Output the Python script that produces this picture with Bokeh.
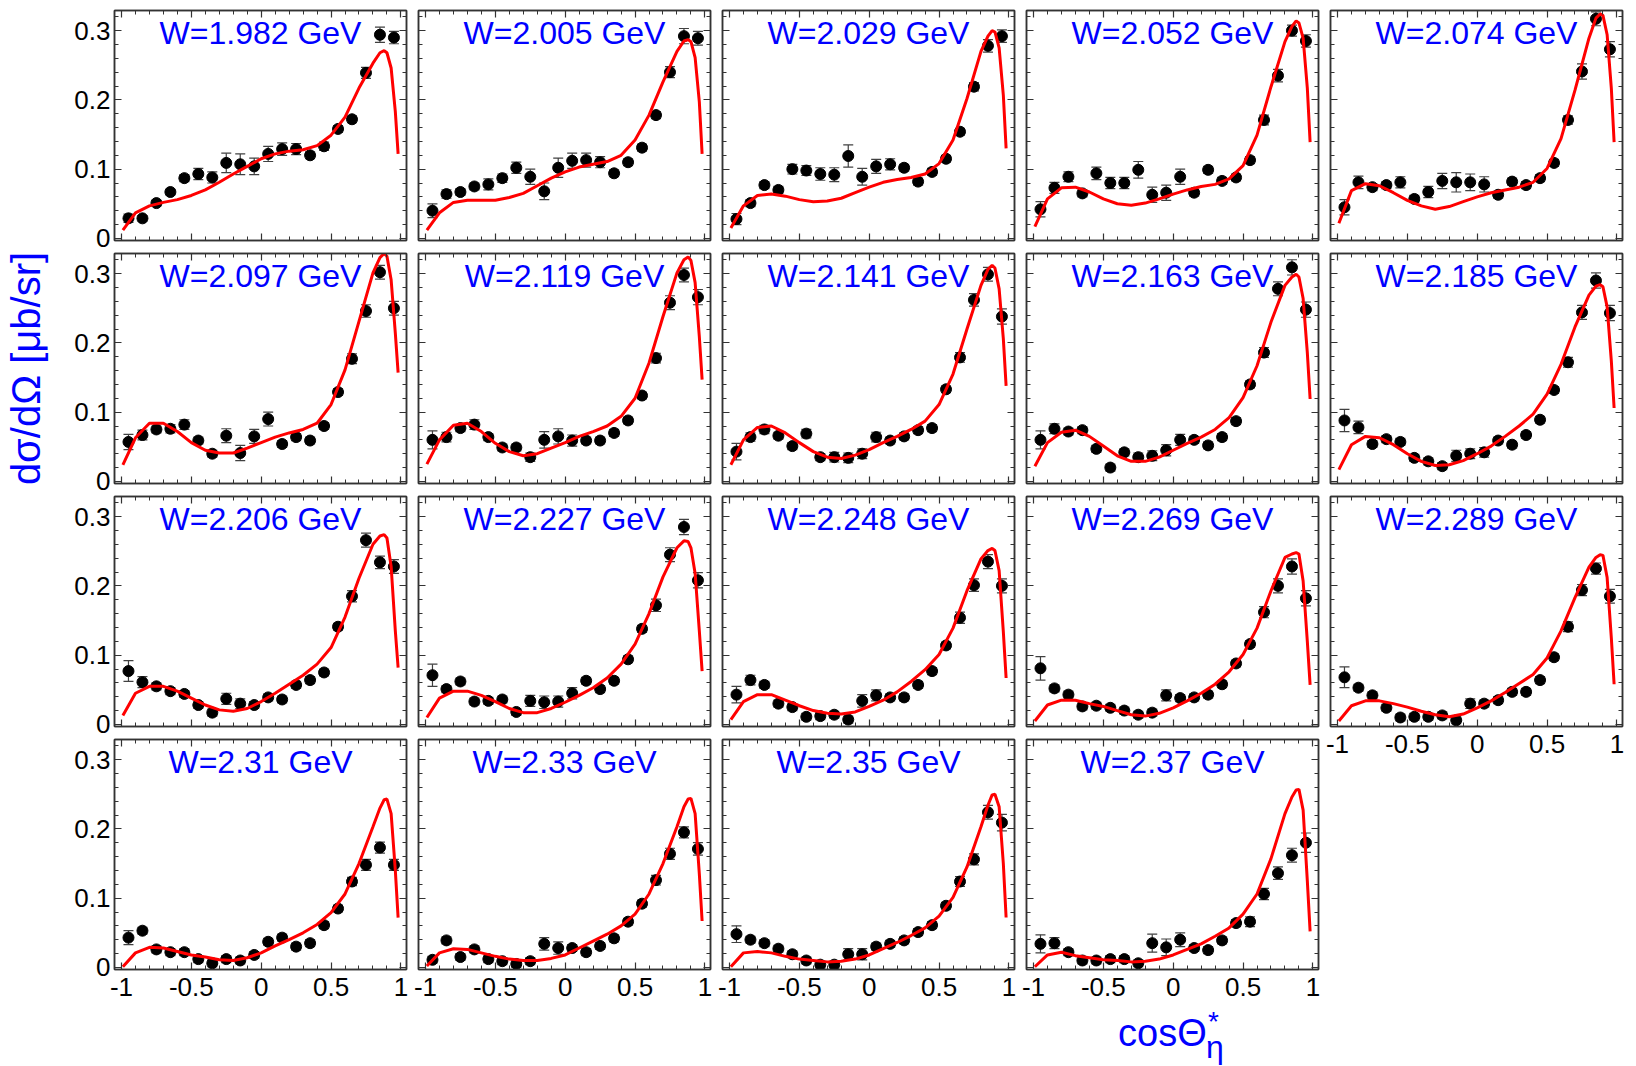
import numpy as np
from bokeh.plotting import figure
from bokeh.models import (Range1d, LinearAxis, FixedTicker, Label, Whisker, TeeHead,
                          ColumnDataSource, CustomLabelingPolicy, Div)
from bokeh.layouts import row, column
from bokeh.embed import file_html
from bokeh.resources import INLINE

# ---------------- data ----------------
W_LABELS = ["W=1.982 GeV", "W=2.005 GeV", "W=2.029 GeV", "W=2.052 GeV", "W=2.074 GeV",
            "W=2.097 GeV", "W=2.119 GeV", "W=2.141 GeV", "W=2.163 GeV", "W=2.185 GeV",
            "W=2.206 GeV", "W=2.227 GeV", "W=2.248 GeV", "W=2.269 GeV", "W=2.289 GeV",
            "W=2.31 GeV", "W=2.33 GeV", "W=2.35 GeV", "W=2.37 GeV"]

COS = [-0.95, -0.85, -0.75, -0.65, -0.55, -0.45, -0.35, -0.25, -0.15, -0.05,
       0.05, 0.15, 0.25, 0.35, 0.45, 0.55, 0.65, 0.75, 0.85, 0.95]
FIT_X = [-0.99, -0.9, -0.8, -0.7, -0.6, -0.5, -0.4, -0.3, -0.2, -0.1, 0.0, 0.1, 0.2,
         0.3, 0.4, 0.5, 0.6, 0.7, 0.8, 0.85, 0.88, 0.9, 0.93, 0.96, 0.98]

XTICKS = [-1, -0.5, 0, 0.5, 1]
XTICK_LABELS = ["-1", "-0.5", "0", "0.5", "1"]
YTICKS = [0, 0.1, 0.2, 0.3]
YTICK_LABELS = ["0", "0.1", "0.2", "0.3"]
Y_TITLE = "dσ/dΩ [μb/sr]"
X_TITLE_MAIN, X_TITLE_SUP, X_TITLE_SUB = "cosΘ", "*", "η"

Y_1982 = [0.029, 0.029, 0.051, 0.067, 0.087, 0.093, 0.088, 0.109, 0.107, 0.104, 0.122, 0.129, 0.129, 0.120, 0.133, 0.158, 0.172, 0.239, 0.294, 0.290]
E_1982 = [0.006, 0.004, 0.004, 0.004, 0.005, 0.008, 0.008, 0.014, 0.015, 0.012, 0.011, 0.009, 0.008, 0.005, 0.006, 0.005, 0.005, 0.008, 0.011, 0.009]
F_1982 = [0.012, 0.037, 0.047, 0.052, 0.056, 0.062, 0.070, 0.081, 0.093, 0.104, 0.115, 0.122, 0.126, 0.128, 0.134, 0.149, 0.175, 0.217, 0.253, 0.268, 0.271, 0.268, 0.246, 0.183, 0.122]

Y_2005 = [0.040, 0.064, 0.067, 0.075, 0.078, 0.087, 0.102, 0.089, 0.068, 0.102, 0.112, 0.113, 0.110, 0.094, 0.110, 0.131, 0.178, 0.240, 0.292, 0.289]
E_2005 = [0.010, 0.006, 0.005, 0.005, 0.008, 0.006, 0.008, 0.011, 0.012, 0.014, 0.011, 0.010, 0.008, 0.005, 0.005, 0.005, 0.005, 0.008, 0.011, 0.010]
F_2005 = [0.012, 0.037, 0.052, 0.055, 0.055, 0.055, 0.059, 0.065, 0.076, 0.087, 0.096, 0.103, 0.107, 0.111, 0.120, 0.142, 0.178, 0.226, 0.270, 0.285, 0.287, 0.284, 0.261, 0.197, 0.122]

Y_2029 = [0.028, 0.051, 0.077, 0.070, 0.100, 0.098, 0.093, 0.092, 0.119, 0.089, 0.104, 0.107, 0.102, 0.082, 0.096, 0.115, 0.154, 0.219, 0.278, 0.292]
E_2029 = [0.008, 0.005, 0.005, 0.005, 0.007, 0.007, 0.009, 0.010, 0.016, 0.012, 0.010, 0.008, 0.005, 0.005, 0.005, 0.005, 0.005, 0.006, 0.009, 0.009]
F_2029 = [0.015, 0.047, 0.062, 0.064, 0.061, 0.056, 0.053, 0.054, 0.058, 0.066, 0.074, 0.081, 0.085, 0.088, 0.093, 0.108, 0.142, 0.202, 0.270, 0.292, 0.300, 0.298, 0.275, 0.207, 0.130]

Y_2052 = [0.042, 0.073, 0.089, 0.065, 0.094, 0.080, 0.080, 0.099, 0.063, 0.066, 0.089, 0.066, 0.099, 0.083, 0.088, 0.113, 0.171, 0.235, 0.300, 0.285]
E_2052 = [0.011, 0.008, 0.007, 0.005, 0.009, 0.008, 0.008, 0.012, 0.011, 0.011, 0.011, 0.005, 0.005, 0.005, 0.005, 0.005, 0.007, 0.009, 0.008, 0.009]
F_2052 = [0.017, 0.057, 0.073, 0.074, 0.067, 0.057, 0.050, 0.048, 0.051, 0.057, 0.064, 0.070, 0.075, 0.078, 0.086, 0.105, 0.149, 0.219, 0.284, 0.306, 0.314, 0.311, 0.289, 0.217, 0.139]

Y_2074 = [0.045, 0.081, 0.074, 0.077, 0.081, 0.057, 0.067, 0.083, 0.081, 0.081, 0.078, 0.063, 0.082, 0.077, 0.087, 0.109, 0.171, 0.241, 0.317, 0.273]
E_2074 = [0.011, 0.009, 0.005, 0.005, 0.008, 0.005, 0.008, 0.011, 0.014, 0.012, 0.011, 0.005, 0.005, 0.005, 0.005, 0.005, 0.006, 0.011, 0.010, 0.011]
F_2074 = [0.022, 0.069, 0.079, 0.076, 0.066, 0.055, 0.047, 0.042, 0.046, 0.053, 0.060, 0.066, 0.070, 0.074, 0.081, 0.101, 0.144, 0.214, 0.289, 0.318, 0.324, 0.322, 0.294, 0.217, 0.139]

Y_2097 = [0.057, 0.067, 0.075, 0.076, 0.082, 0.059, 0.040, 0.066, 0.041, 0.065, 0.090, 0.054, 0.064, 0.059, 0.080, 0.129, 0.177, 0.246, 0.302, 0.250]
E_2097 = [0.011, 0.007, 0.005, 0.006, 0.007, 0.005, 0.005, 0.010, 0.011, 0.010, 0.010, 0.005, 0.005, 0.005, 0.005, 0.005, 0.007, 0.009, 0.010, 0.010]
F_2097 = [0.024, 0.063, 0.084, 0.084, 0.072, 0.056, 0.045, 0.041, 0.041, 0.048, 0.056, 0.064, 0.070, 0.075, 0.084, 0.111, 0.161, 0.231, 0.301, 0.323, 0.329, 0.325, 0.291, 0.214, 0.157]

Y_2119 = [0.060, 0.064, 0.077, 0.082, 0.064, 0.049, 0.049, 0.035, 0.060, 0.065, 0.059, 0.059, 0.059, 0.070, 0.088, 0.124, 0.178, 0.258, 0.298, 0.266]
E_2119 = [0.013, 0.007, 0.005, 0.007, 0.005, 0.005, 0.005, 0.006, 0.012, 0.011, 0.008, 0.005, 0.005, 0.005, 0.005, 0.005, 0.007, 0.010, 0.010, 0.011]
F_2119 = [0.025, 0.060, 0.081, 0.084, 0.072, 0.055, 0.043, 0.037, 0.040, 0.048, 0.056, 0.065, 0.072, 0.080, 0.094, 0.120, 0.171, 0.238, 0.301, 0.320, 0.324, 0.319, 0.287, 0.209, 0.147]

Y_2141 = [0.043, 0.064, 0.075, 0.066, 0.051, 0.069, 0.035, 0.035, 0.034, 0.040, 0.064, 0.059, 0.065, 0.074, 0.077, 0.133, 0.179, 0.262, 0.299, 0.238]
E_2141 = [0.012, 0.006, 0.006, 0.005, 0.005, 0.006, 0.005, 0.007, 0.007, 0.007, 0.007, 0.005, 0.005, 0.005, 0.005, 0.005, 0.007, 0.009, 0.010, 0.011]
F_2141 = [0.024, 0.060, 0.078, 0.080, 0.070, 0.056, 0.043, 0.035, 0.033, 0.038, 0.046, 0.056, 0.065, 0.075, 0.087, 0.111, 0.155, 0.220, 0.283, 0.306, 0.312, 0.308, 0.278, 0.206, 0.138]

Y_2163 = [0.060, 0.076, 0.072, 0.074, 0.047, 0.020, 0.042, 0.035, 0.037, 0.045, 0.060, 0.060, 0.052, 0.064, 0.087, 0.140, 0.186, 0.278, 0.309, 0.248]
E_2163 = [0.013, 0.007, 0.005, 0.005, 0.005, 0.005, 0.005, 0.006, 0.007, 0.008, 0.008, 0.005, 0.005, 0.005, 0.005, 0.005, 0.007, 0.010, 0.011, 0.011]
F_2163 = [0.022, 0.056, 0.071, 0.074, 0.065, 0.051, 0.037, 0.029, 0.029, 0.035, 0.045, 0.055, 0.064, 0.075, 0.092, 0.121, 0.167, 0.230, 0.283, 0.295, 0.299, 0.295, 0.264, 0.186, 0.119]

Y_2185 = [0.088, 0.078, 0.054, 0.061, 0.057, 0.034, 0.029, 0.022, 0.037, 0.040, 0.042, 0.059, 0.053, 0.067, 0.089, 0.132, 0.172, 0.244, 0.290, 0.243]
E_2185 = [0.016, 0.009, 0.005, 0.005, 0.005, 0.005, 0.005, 0.005, 0.008, 0.007, 0.007, 0.005, 0.005, 0.005, 0.005, 0.005, 0.007, 0.010, 0.011, 0.011]
F_2185 = [0.017, 0.053, 0.065, 0.063, 0.053, 0.040, 0.029, 0.023, 0.024, 0.030, 0.040, 0.051, 0.065, 0.080, 0.097, 0.126, 0.169, 0.223, 0.269, 0.282, 0.284, 0.281, 0.252, 0.174, 0.106]

Y_2206 = [0.077, 0.061, 0.055, 0.048, 0.044, 0.028, 0.017, 0.037, 0.030, 0.028, 0.039, 0.036, 0.057, 0.064, 0.075, 0.141, 0.185, 0.266, 0.234, 0.228]
E_2206 = [0.015, 0.008, 0.005, 0.005, 0.005, 0.005, 0.005, 0.008, 0.007, 0.005, 0.005, 0.005, 0.005, 0.005, 0.005, 0.005, 0.008, 0.010, 0.009, 0.010]
F_2206 = [0.013, 0.045, 0.055, 0.055, 0.048, 0.038, 0.028, 0.021, 0.019, 0.023, 0.033, 0.045, 0.058, 0.071, 0.087, 0.111, 0.155, 0.211, 0.260, 0.272, 0.274, 0.269, 0.228, 0.135, 0.082]

Y_2227 = [0.071, 0.051, 0.062, 0.033, 0.034, 0.036, 0.018, 0.034, 0.032, 0.033, 0.045, 0.063, 0.051, 0.063, 0.094, 0.138, 0.172, 0.245, 0.285, 0.208]
E_2227 = [0.016, 0.005, 0.005, 0.005, 0.005, 0.005, 0.005, 0.008, 0.009, 0.008, 0.008, 0.005, 0.005, 0.005, 0.005, 0.005, 0.009, 0.010, 0.011, 0.011]
F_2227 = [0.010, 0.038, 0.048, 0.048, 0.042, 0.033, 0.023, 0.017, 0.017, 0.023, 0.032, 0.042, 0.053, 0.067, 0.087, 0.116, 0.160, 0.213, 0.255, 0.265, 0.264, 0.255, 0.218, 0.135, 0.077]

Y_2248 = [0.043, 0.064, 0.057, 0.030, 0.025, 0.011, 0.012, 0.014, 0.007, 0.034, 0.042, 0.039, 0.039, 0.057, 0.077, 0.114, 0.154, 0.201, 0.235, 0.200]
E_2248 = [0.012, 0.007, 0.005, 0.005, 0.005, 0.005, 0.005, 0.005, 0.005, 0.009, 0.008, 0.005, 0.005, 0.005, 0.005, 0.005, 0.008, 0.009, 0.010, 0.010]
F_2248 = [0.007, 0.033, 0.043, 0.043, 0.035, 0.027, 0.020, 0.016, 0.015, 0.018, 0.026, 0.035, 0.047, 0.062, 0.079, 0.101, 0.139, 0.193, 0.239, 0.251, 0.254, 0.251, 0.222, 0.134, 0.067]

Y_2269 = [0.081, 0.052, 0.043, 0.026, 0.027, 0.024, 0.020, 0.014, 0.017, 0.042, 0.038, 0.039, 0.043, 0.058, 0.088, 0.116, 0.162, 0.200, 0.228, 0.182]
E_2269 = [0.017, 0.005, 0.005, 0.005, 0.005, 0.005, 0.005, 0.005, 0.005, 0.008, 0.005, 0.005, 0.005, 0.005, 0.005, 0.005, 0.008, 0.010, 0.011, 0.011]
F_2269 = [0.005, 0.028, 0.035, 0.035, 0.030, 0.026, 0.020, 0.014, 0.012, 0.016, 0.024, 0.034, 0.045, 0.058, 0.076, 0.101, 0.139, 0.193, 0.241, 0.246, 0.248, 0.246, 0.207, 0.120, 0.057]

Y_2289 = [0.068, 0.053, 0.042, 0.024, 0.010, 0.011, 0.011, 0.013, 0.006, 0.030, 0.030, 0.035, 0.047, 0.047, 0.064, 0.097, 0.141, 0.194, 0.225, 0.185]
E_2289 = [0.015, 0.005, 0.005, 0.005, 0.005, 0.005, 0.005, 0.005, 0.005, 0.007, 0.005, 0.005, 0.005, 0.005, 0.005, 0.005, 0.007, 0.008, 0.008, 0.010]
F_2289 = [0.005, 0.027, 0.034, 0.034, 0.030, 0.025, 0.019, 0.014, 0.011, 0.015, 0.024, 0.034, 0.046, 0.059, 0.072, 0.096, 0.135, 0.183, 0.227, 0.241, 0.245, 0.244, 0.212, 0.125, 0.058]

Y_2310 = [0.043, 0.053, 0.026, 0.022, 0.022, 0.012, 0.006, 0.012, 0.010, 0.018, 0.037, 0.043, 0.030, 0.035, 0.061, 0.085, 0.124, 0.148, 0.173, 0.148]
E_2310 = [0.010, 0.005, 0.005, 0.005, 0.005, 0.005, 0.005, 0.005, 0.005, 0.005, 0.005, 0.005, 0.005, 0.005, 0.005, 0.005, 0.006, 0.008, 0.008, 0.008]
F_2310 = [0.001, 0.021, 0.029, 0.028, 0.023, 0.018, 0.015, 0.011, 0.010, 0.014, 0.021, 0.031, 0.040, 0.050, 0.062, 0.079, 0.106, 0.150, 0.203, 0.230, 0.242, 0.243, 0.222, 0.140, 0.072]

Y_2330 = [0.011, 0.039, 0.015, 0.026, 0.012, 0.009, 0.005, 0.009, 0.034, 0.028, 0.028, 0.022, 0.031, 0.042, 0.066, 0.092, 0.126, 0.164, 0.195, 0.171]
E_2330 = [0.005, 0.005, 0.005, 0.005, 0.005, 0.005, 0.005, 0.005, 0.009, 0.009, 0.005, 0.005, 0.005, 0.005, 0.005, 0.005, 0.007, 0.008, 0.008, 0.009]
F_2330 = [0.002, 0.021, 0.027, 0.026, 0.021, 0.016, 0.012, 0.010, 0.010, 0.013, 0.018, 0.028, 0.038, 0.048, 0.060, 0.077, 0.106, 0.150, 0.203, 0.232, 0.243, 0.244, 0.222, 0.135, 0.067]

Y_2350 = [0.048, 0.040, 0.035, 0.027, 0.019, 0.010, 0.004, 0.004, 0.019, 0.019, 0.030, 0.034, 0.039, 0.051, 0.061, 0.089, 0.124, 0.156, 0.224, 0.209]
E_2350 = [0.012, 0.005, 0.005, 0.005, 0.005, 0.005, 0.005, 0.005, 0.008, 0.008, 0.005, 0.005, 0.005, 0.005, 0.005, 0.005, 0.007, 0.008, 0.010, 0.012]
F_2350 = [0.001, 0.021, 0.023, 0.021, 0.016, 0.012, 0.010, 0.008, 0.009, 0.012, 0.018, 0.027, 0.036, 0.046, 0.057, 0.074, 0.101, 0.145, 0.203, 0.234, 0.249, 0.250, 0.232, 0.150, 0.072]

Y_2370 = [0.034, 0.035, 0.022, 0.010, 0.010, 0.012, 0.012, 0.006, 0.035, 0.029, 0.040, 0.028, 0.025, 0.039, 0.064, 0.066, 0.106, 0.136, 0.162, 0.180]
E_2370 = [0.013, 0.008, 0.005, 0.005, 0.005, 0.005, 0.005, 0.005, 0.013, 0.012, 0.010, 0.005, 0.005, 0.005, 0.005, 0.007, 0.008, 0.009, 0.010, 0.014]
F_2370 = [0.001, 0.018, 0.022, 0.017, 0.014, 0.011, 0.010, 0.008, 0.009, 0.012, 0.018, 0.026, 0.034, 0.045, 0.057, 0.077, 0.106, 0.157, 0.222, 0.246, 0.256, 0.257, 0.227, 0.125, 0.052]

PANELS = [
    (Y_1982, E_1982, F_1982), (Y_2005, E_2005, F_2005), (Y_2029, E_2029, F_2029),
    (Y_2052, E_2052, F_2052), (Y_2074, E_2074, F_2074), (Y_2097, E_2097, F_2097),
    (Y_2119, E_2119, F_2119), (Y_2141, E_2141, F_2141), (Y_2163, E_2163, F_2163),
    (Y_2185, E_2185, F_2185), (Y_2206, E_2206, F_2206), (Y_2227, E_2227, F_2227),
    (Y_2248, E_2248, F_2248), (Y_2269, E_2269, F_2269), (Y_2289, E_2289, F_2289),
    (Y_2310, E_2310, F_2310), (Y_2330, E_2330, F_2330), (Y_2350, E_2350, F_2350),
    (Y_2370, E_2370, F_2370),
]

# ---------------- styling / layout ----------------
XMIN, XMAX = -1.05, 1.04
YMIN, YMAX = -0.003, 0.329
FW, FH = 292, 230
PYU = FH / (YMAX - YMIN)
FONT = "Liberation Sans"
FRAME_C = "#333333"
BLUE = "#0000ff"

X_MINOR = [round(-1 + 0.1 * i, 2) for i in range(21)]
Y_MINOR = [round(0.02 * i, 2) for i in range(17)]

HIDE_LABELS = """
for (const i of indices) {
    indices.unset(i)
}
return indices
"""


def style_axis(ax, ticks, minor, labels, show, standoff):
    ax.ticker = FixedTicker(ticks=ticks, minor_ticks=minor)
    ax.major_tick_in = 7
    ax.major_tick_out = 0
    ax.minor_tick_in = 4
    ax.minor_tick_out = 0
    ax.axis_line_color = FRAME_C
    ax.axis_line_width = 1.5
    ax.major_tick_line_color = FRAME_C
    ax.minor_tick_line_color = FRAME_C
    ax.major_tick_line_width = 1.2
    ax.minor_tick_line_width = 1
    if show:
        ax.major_label_overrides = {t: s for t, s in zip(ticks, labels)}
        ax.major_label_text_font = FONT
        ax.major_label_text_font_size = "26px"
        ax.major_label_text_color = "black"
        ax.major_label_standoff = standoff
    else:
        ax.major_label_policy = CustomLabelingPolicy(code=HIDE_LABELS)
        ax.major_label_text_font_size = "0px"
        ax.major_label_standoff = 0


def make_panel(k):
    r, c = divmod(k, 5)
    left = 114 if c == 0 else 6
    right = 5 if c == 4 else 6
    top = 10 if r == 0 else 1
    if r == 3 or k == 14:
        bottom = 39
    else:
        bottom = 12
    show_x = (r == 3) or (k == 14)
    show_y = (c == 0)
    p = figure(width=left + FW + right, height=top + FH + bottom,
               x_range=Range1d(XMIN, XMAX), y_range=Range1d(YMIN, YMAX),
               output_backend="svg", toolbar_location=None,
               min_border_left=left, min_border_right=right,
               min_border_top=top, min_border_bottom=bottom)
    p.xgrid.visible = False
    p.ygrid.visible = False
    p.outline_line_color = FRAME_C
    p.outline_line_width = 1.5
    p.background_fill_color = "white"
    p.border_fill_color = "white"

    style_axis(p.xaxis[0], XTICKS, X_MINOR, XTICK_LABELS, show_x, 8)
    style_axis(p.yaxis[0], YTICKS, Y_MINOR, YTICK_LABELS, show_y, 4)
    ax_top = LinearAxis()
    style_axis(ax_top, XTICKS, X_MINOR, XTICK_LABELS, False, 0)
    p.add_layout(ax_top, "above")
    ax_right = LinearAxis()
    style_axis(ax_right, YTICKS, Y_MINOR, YTICK_LABELS, False, 0)
    p.add_layout(ax_right, "right")

    if k == 5:
        ya = p.yaxis[0]
        ya.axis_label = Y_TITLE
        ya.axis_label_text_font = FONT
        ya.axis_label_text_font_size = "40px"
        ya.axis_label_text_font_style = "normal"
        ya.axis_label_text_color = BLUE
        ya.axis_label_standoff = 23

    yv, ev, fv = PANELS[k]
    src = ColumnDataSource(dict(x=COS, y=yv,
                                lo=[a - b for a, b in zip(yv, ev)],
                                hi=[a + b for a, b in zip(yv, ev)]))
    wh = Whisker(source=src, base="x", upper="hi", lower="lo",
                 line_color="#404040", line_width=1.2,
                 upper_head=TeeHead(size=10, line_color="#404040", line_width=1.2),
                 lower_head=TeeHead(size=10, line_color="#404040", line_width=1.2))
    p.add_layout(wh)
    p.scatter("x", "y", source=src, size=11, color="black")
    p.line(FIT_X, fv, line_color="#ff0000", line_width=3)

    p.add_layout(Label(x=(XMIN + XMAX) / 2, y=YMAX - 22 / PYU, text=W_LABELS[k],
                       text_font=FONT, text_font_size="32px", text_color=BLUE,
                       text_align="center", text_baseline="middle"))
    return p


figs = [make_panel(k) for k in range(len(PANELS))]

xtitle_html = (
    '<div style="position:relative;width:300px;height:58px;font-family:\'Liberation Sans\';'
    'color:%s;line-height:1;white-space:nowrap;">'
    '<span style="position:absolute;left:98px;top:6px;font-size:38px;">%s</span>'
    '<span style="position:absolute;left:188px;top:0px;font-size:28px;">%s</span>'
    '<span style="position:absolute;left:186px;top:23px;font-size:32px;">%s</span>'
    '</div>' % (BLUE, X_TITLE_MAIN, X_TITLE_SUP, X_TITLE_SUB)
)
xtitle = Div(text=xtitle_html, width=304, height=58, margin=(0, 0, 0, 0))

cols = []
for c in range(5):
    items = [figs[k] for k in range(c, len(figs), 5)]
    if c == 3:
        items.append(xtitle)
    cols.append(column(items, spacing=0))
layout = row(cols, spacing=0)

open("out.html", "w").write(file_html(layout, INLINE))
